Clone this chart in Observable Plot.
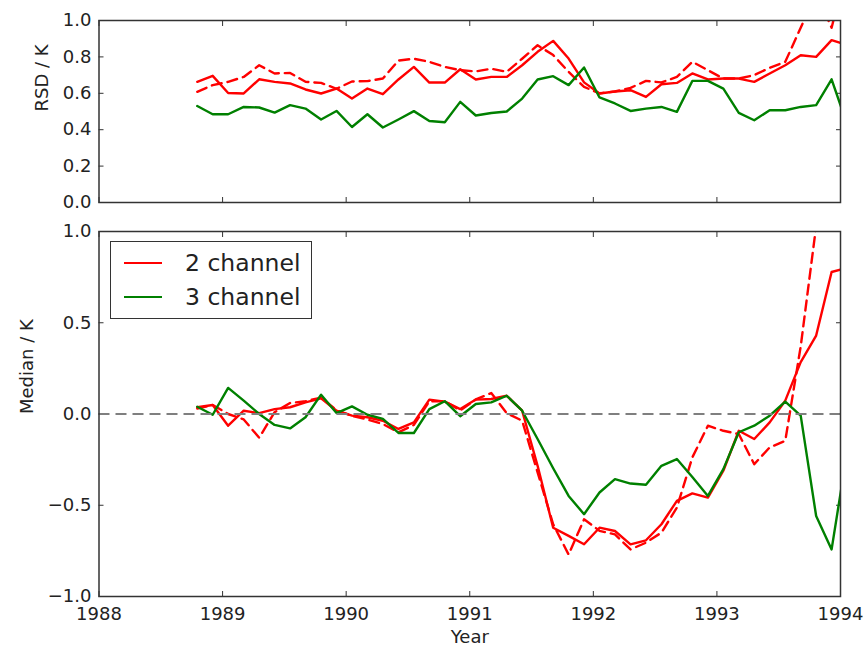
<!DOCTYPE html>
<html><head><meta charset="utf-8">
<script src="https://cdn.jsdelivr.net/npm/d3@7"></script>
<script src="https://cdn.jsdelivr.net/npm/@observablehq/plot@0.6"></script>
<style>
body{margin:0;background:#fff;font-family:"DejaVu Sans",sans-serif;}
#wrap{position:relative;width:866px;height:652px;}
#wrap svg{display:block;}
#legend{position:absolute;left:110px;top:241px;width:202px;height:78px;border:1.5px solid #333;background:#fff;box-sizing:border-box;font-size:23.5px;color:#222;}
#legend .row{position:absolute;left:0;height:30px;display:flex;align-items:center;}
#legend .sw{width:38px;height:0;border-top:2.4px solid;margin-left:13px;margin-right:23px;}
</style></head><body><div id="wrap"><div id="plots"></div><div id="legend"></div></div>
<script>
const years = [1988.795, 1988.920, 1989.045, 1989.171, 1989.296, 1989.421, 1989.546, 1989.671, 1989.797, 1989.922, 1990.047, 1990.172, 1990.297, 1990.423, 1990.548, 1990.673, 1990.798, 1990.923, 1991.049, 1991.174, 1991.299, 1991.424, 1991.549, 1991.675, 1991.800, 1991.925, 1992.050, 1992.175, 1992.301, 1992.426, 1992.551, 1992.676, 1992.801, 1992.927, 1993.052, 1993.177, 1993.302, 1993.427, 1993.553, 1993.678, 1993.803, 1993.928, 1994.053];
// RSD / K
const rsd2 = [0.663, 0.696, 0.602, 0.599, 0.677, 0.663, 0.654, 0.621, 0.599, 0.626, 0.571, 0.626, 0.595, 0.676, 0.745, 0.659, 0.659, 0.732, 0.676, 0.69, 0.69, 0.754, 0.828, 0.888, 0.791, 0.66, 0.599, 0.61, 0.617, 0.58, 0.65, 0.657, 0.709, 0.676, 0.681, 0.681, 0.663, 0.709, 0.754, 0.809, 0.8, 0.892, 0.865];
const rsd2dash = [0.608, 0.645, 0.663, 0.69, 0.754, 0.709, 0.712, 0.663, 0.657, 0.625, 0.665, 0.667, 0.681, 0.78, 0.79, 0.773, 0.745, 0.727, 0.72, 0.735, 0.718, 0.79, 0.864, 0.81, 0.718, 0.635, 0.6, 0.61, 0.63, 0.668, 0.66, 0.69, 0.773, 0.727, 0.681, 0.681, 0.7, 0.74, 0.773, 0.96, 1.15, 0.96, 1.3];
const rsd3 = [0.53, 0.485, 0.485, 0.525, 0.522, 0.494, 0.535, 0.516, 0.456, 0.503, 0.415, 0.485, 0.412, 0.456, 0.502, 0.448, 0.441, 0.553, 0.478, 0.492, 0.5, 0.571, 0.676, 0.694, 0.645, 0.742, 0.577, 0.544, 0.503, 0.516, 0.525, 0.498, 0.668, 0.668, 0.626, 0.492, 0.452, 0.507, 0.507, 0.525, 0.535, 0.677, 0.43];
// Median / K
const med2 = [0.037, 0.049, -0.064, 0.018, 0.005, 0.027, 0.037, 0.064, 0.086, 0.018, -0.009, -0.018, -0.037, -0.082, -0.046, 0.079, 0.068, 0.027, 0.079, 0.082, 0.1, 0.018, -0.284, -0.623, -0.668, -0.714, -0.623, -0.641, -0.714, -0.692, -0.604, -0.476, -0.435, -0.458, -0.311, -0.092, -0.137, -0.046, 0.073, 0.284, 0.43, 0.778, 0.8];
const med2dash = [0.03, 0.05, 0.0, -0.03, -0.13, 0.01, 0.06, 0.07, 0.09, 0.02, -0.01, -0.03, -0.055, -0.1, -0.06, 0.07, 0.07, 0.02, 0.08, 0.115, 0.005, -0.037, -0.32, -0.604, -0.77, -0.577, -0.64, -0.66, -0.742, -0.705, -0.65, -0.513, -0.238, -0.064, -0.092, -0.11, -0.275, -0.183, -0.147, 0.37, 1.03, 1.5, 1.8];
const med3 = [0.04, -0.004, 0.143, 0.073, 0.0, -0.06, -0.079, -0.018, 0.106, 0.005, 0.042, -0.004, -0.027, -0.104, -0.104, 0.027, 0.07, -0.012, 0.055, 0.064, 0.1, 0.018, -0.137, -0.297, -0.449, -0.549, -0.43, -0.357, -0.381, -0.388, -0.284, -0.247, -0.345, -0.449, -0.302, -0.1, -0.064, -0.009, 0.068, -0.009, -0.559, -0.742, -0.21];

const xTicks = [1988, 1989, 1990, 1991, 1992, 1993, 1994];
const rsdTicks = [0, 0.2, 0.4, 0.6, 0.8, 1.0];
const medTicks = [-1, -0.5, 0, 0.5, 1];
const legendLabels = ["2 channel", "3 channel"];
const xLabel = "Year", rsdLabel = "RSD / K", medLabel = "Median / K";

const RED = "#ff0000", GREEN = "#008000", INK = "#222";
const rows = years.map((t, i) => ({t, rsd2: rsd2[i], rsd2dash: rsd2dash[i], rsd3: rsd3[i], med2: med2[i], med2dash: med2dash[i], med3: med3[i]}));

const common = {
  width: 866, marginLeft: 98.5, marginRight: 26,
  style: {fontFamily: "DejaVu Sans, sans-serif", fontSize: "18px", color: INK, background: "transparent", overflow: "visible"}
};
const fmt1 = d3.format(".1f");
const blank = () => "";
const lw = 2.4, dash = "10,6";

function frameTicks(yTicks) {
  return [
    Plot.axisY(yTicks, {anchor: "left", tickSize: -5, tickFormat: blank, label: null, stroke: "#333"}),
    Plot.axisY(yTicks, {anchor: "right", tickSize: -5, tickFormat: blank, label: null, stroke: "#333"}),
    Plot.axisX(xTicks, {anchor: "bottom", tickSize: -5, tickFormat: blank, label: null, stroke: "#333"}),
    Plot.axisX(xTicks, {anchor: "top", tickSize: -5, tickFormat: blank, label: null, stroke: "#333"})
  ];
}

const topPlot = Plot.plot({
  ...common, height: 214, marginTop: 20, marginBottom: 12,
  x: {domain: [1988, 1994], axis: null},
  y: {domain: [0, 1], axis: null},
  marks: [
    Plot.axisY(rsdTicks, {tickSize: 0, tickPadding: 7.5, tickFormat: fmt1, label: null, fill: INK}),
    ...frameTicks(rsdTicks),
    Plot.line(rows, {x: "t", y: "rsd2dash", stroke: RED, strokeWidth: lw, strokeDasharray: dash, clip: true}),
    Plot.line(rows, {x: "t", y: "rsd2", stroke: RED, strokeWidth: lw, clip: true}),
    Plot.line(rows, {x: "t", y: "rsd3", stroke: GREEN, strokeWidth: lw, clip: true}),
    Plot.frame({stroke: "#333", strokeWidth: 1.5}),
    Plot.text([rsdLabel], {frameAnchor: "left", rotate: -90, dx: -56.5, fill: INK, fontSize: 18})
  ]
});

const bottomPlot = Plot.plot({
  ...common, height: 438, marginTop: 17, marginBottom: 56,
  x: {domain: [1988, 1994], axis: null},
  y: {domain: [-1, 1], axis: null},
  marks: [
    Plot.axisY(medTicks, {tickSize: 0, tickPadding: 7.5, tickFormat: fmt1, label: null, fill: INK}),
    Plot.axisX(xTicks, {tickSize: 0, tickPadding: 11, tickFormat: d3.format("d"), label: null, fill: INK}),
    ...frameTicks(medTicks),
    Plot.line(rows, {x: "t", y: "med2dash", stroke: RED, strokeWidth: lw, strokeDasharray: dash, clip: true}),
    Plot.line(rows, {x: "t", y: "med2", stroke: RED, strokeWidth: lw, clip: true}),
    Plot.line(rows, {x: "t", y: "med3", stroke: GREEN, strokeWidth: lw, clip: true}),
    Plot.ruleY([0], {stroke: "#7f7f7f", strokeWidth: 2.2, strokeDasharray: "11,6"}),
    Plot.frame({stroke: "#333", strokeWidth: 1.5}),
    Plot.text([medLabel], {frameAnchor: "left", rotate: -90, dx: -72, fill: INK, fontSize: 18}),
    Plot.text([xLabel], {frameAnchor: "bottom", dy: 46, fill: INK, fontSize: 18})
  ]
});

const plots = document.getElementById("plots");
plots.appendChild(topPlot);
plots.appendChild(bottomPlot);

const legend = document.getElementById("legend");
[[legendLabels[0], RED, 5.5], [legendLabels[1], GREEN, 40]].forEach(([label, color, y]) => {
  const row = document.createElement("div");
  row.className = "row";
  row.style.top = y + "px";
  const sw = document.createElement("div");
  sw.className = "sw";
  sw.style.borderTopColor = color;
  const tx = document.createElement("span");
  tx.textContent = label;
  row.appendChild(sw);
  row.appendChild(tx);
  legend.appendChild(row);
});
</script>
</body></html>
